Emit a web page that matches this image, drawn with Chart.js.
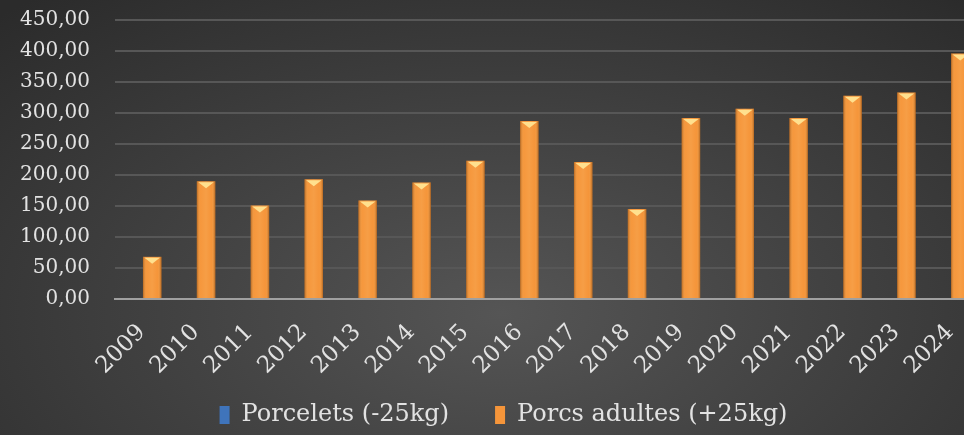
<!DOCTYPE html>
<html>
<head>
<meta charset="utf-8">
<script src="https://cdn.jsdelivr.net/npm/chart.js@4/dist/chart.umd.min.js"></script>
<style>
  html, body { margin: 0; padding: 0; width: 964px; height: 435px; overflow: hidden; }
  body { background: radial-gradient(ellipse 75% 95% at 52% 72%, #555555 0%, #444444 40%, #2b2b2b 100%); }
  #wrap { position: absolute; left: 0; top: 0; width: 1010px; height: 435px; }
</style>
</head>
<body>
<div id="wrap"><canvas id="chart"></canvas></div>
<script>
const annees = ['2009', '2010', '2011', '2012', '2013', '2014', '2015', '2016',
                '2017', '2018', '2019', '2020', '2021', '2022', '2023', '2024'];
const porcelets = [0, 0, 0, 0, 0, 0, 0, 0, 0, 0, 0, 0, 0, 0, 0, 0];
const porcsAdultes = [68, 190, 151, 193, 159, 188, 223, 287, 221, 145, 292, 307, 292, 328, 333, 396];
const yTicks = [0, 50, 100, 150, 200, 250, 300, 350, 400, 450];

const FONT = '"DejaVu Serif", serif';
const fmt = v => v.toFixed(2).replace('.', ',');

// bars get a rounded look and a light triangle on top, like the office chart style
const barShade = {
  id: 'barShade',
  afterDatasetsDraw(chart) {
    const ctx = chart.ctx;
    chart.data.datasets.forEach((ds, i) => {
      const meta = chart.getDatasetMeta(i);
      meta.data.forEach((bar, j) => {
        if (!ds.data[j]) return;
        const { x, y, base, width } = bar.getProps(['x', 'y', 'base', 'width'], true);
        const l = x - width / 2, r = x + width / 2;
        ctx.save();
        const g = ctx.createLinearGradient(l, 0, r, 0);
        g.addColorStop(0, 'rgba(120,60,10,0.5)');
        g.addColorStop(0.2, 'rgba(255,200,120,0.05)');
        g.addColorStop(0.5, 'rgba(255,210,140,0.15)');
        g.addColorStop(0.8, 'rgba(255,200,120,0.0)');
        g.addColorStop(1, 'rgba(120,60,10,0.55)');
        ctx.fillStyle = g;
        ctx.fillRect(l, y, width, base - y);
        ctx.fillStyle = ds.capColor;
        ctx.beginPath();
        ctx.moveTo(l + 1.5, y + 1);
        ctx.lineTo(r - 1.5, y + 1);
        ctx.lineTo(x, y + 7);
        ctx.closePath();
        ctx.fill();
        ctx.restore();
      });
    });
  }
};

// wide gap between legend items, but a short legend box placed like the original
const legendFit = {
  id: 'legendFit',
  beforeInit(chart) {
    const orig = chart.legend.fit;
    chart.legend.fit = function () {
      orig.call(this);
      this.height = 60;
    };
  },
  afterLayout(chart) {
    const lg = chart.legend;
    lg.top -= 18;
    lg.left += 15; lg.right += 15;
  }
};

new Chart(document.getElementById('chart'), {
  type: 'bar',
  data: {
    labels: annees,
    datasets: [
      { label: 'Porcelets (-25kg)', data: porcelets, backgroundColor: '#3f74bb', capColor: '#8fc0ff',
        borderColor: '#234e86' },
      { label: 'Porcs adultes (+25kg)', data: porcsAdultes, backgroundColor: '#f5953a', capColor: '#ffe08e',
        borderColor: '#b8651c' }
    ]
  },
  options: {
    responsive: true,
    maintainAspectRatio: false,
    animation: false,
    categoryPercentage: 0.76,
    barPercentage: 0.9,
    layout: { padding: { top: 0, right: 33, left: 0, bottom: 0 } },
    plugins: {
      tooltip: { enabled: false },
      legend: {
        position: 'bottom',
        labels: {
          color: '#e2e2e2',
          font: { family: FONT, size: 24 },
          padding: 46,
          boxWidth: 10,
          boxHeight: 18
        }
      }
    },
    scales: {
      x: {
        grid: { display: false, drawTicks: false },
        border: { display: true, color: '#a0a0a0', width: 2 },
        ticks: {
          color: '#e2e2e2',
          font: { family: FONT, size: 23 },
          minRotation: 45,
          maxRotation: 45,
          padding: 20
        },
        afterFit(s) { s.height = 76; }
      },
      y: {
        min: 0,
        max: 450,
        afterBuildTicks(s) { s.ticks = yTicks.map(v => ({ value: v })); },
        grid: { color: '#575757', lineWidth: 2, drawTicks: true, tickLength: 17, tickColor: 'rgba(0,0,0,0)' },
        border: { display: false },
        ticks: {
          color: '#e2e2e2',
          font: { family: FONT, size: 20 },
          padding: 8,
          callback: v => fmt(v)
        },
        afterFit(s) { s.width = 115; }
      }
    }
  },
  plugins: [barShade, legendFit]
});
</script>
</body>
</html>
